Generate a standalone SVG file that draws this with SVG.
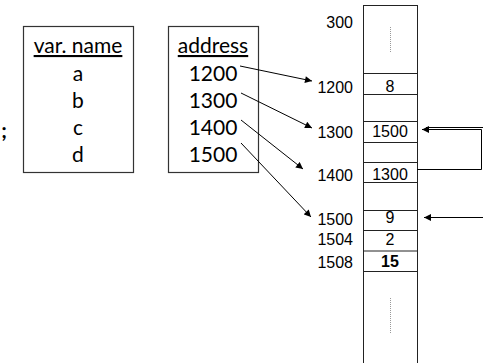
<svg xmlns="http://www.w3.org/2000/svg" width="483" height="363" viewBox="0 0 483 363">
<style>
.c{font-family:Lato,"Open Sans","Liberation Sans",sans-serif;font-size:21px;fill:#000;text-anchor:middle}
.m{font-family:"Liberation Sans",Arial,sans-serif;font-size:16px;fill:#000}
.lab{text-anchor:end}
.val{text-anchor:middle}
.box{fill:#fff;stroke:#333;stroke-width:1.2}
.cell{fill:none;stroke:#222;stroke-width:1}
.dot{stroke:#999;stroke-width:1;stroke-dasharray:1 1}
.ln{fill:none;stroke:#000;stroke-width:1}
</style>
<defs>
<marker id="ah" viewBox="0 0 10 10" refX="10" refY="5" markerWidth="8" markerHeight="7" markerUnits="userSpaceOnUse" orient="auto">
<path d="M0,0 L10,5 L0,10 z" fill="#000"/>
</marker>
</defs>
<rect width="483" height="363" fill="#fff"/>
<text class="c" x="4" y="138" style="font-weight:bold">;</text>
<g id="varname">
<rect class="box" x="23.5" y="26.5" width="110" height="146"/>
<text class="c" x="78" y="53" style="text-decoration:underline">var. name</text>
<text class="c" x="78" y="81">a</text>
<text class="c" x="78" y="108">b</text>
<text class="c" x="78" y="135">c</text>
<text class="c" x="78" y="162">d</text>
</g>
<g id="address">
<rect class="box" x="168.5" y="26.5" width="90" height="146"/>
<text class="c" x="213" y="53" style="text-decoration:underline">address</text>
<text class="c" x="213" y="81">1200</text>
<text class="c" x="213" y="108">1300</text>
<text class="c" x="213" y="135">1400</text>
<text class="c" x="213" y="162">1500</text>
</g>
<g id="memory">
<rect class="cell" x="363.5" y="5.5" width="54" height="360"/>
<line class="cell" x1="363" y1="73.5" x2="418" y2="73.5"/>
<line class="cell" x1="363" y1="94.5" x2="418" y2="94.5"/>
<line class="cell" x1="363" y1="121.5" x2="418" y2="121.5"/>
<line class="cell" x1="363" y1="142.5" x2="418" y2="142.5"/>
<line class="cell" x1="363" y1="162.5" x2="418" y2="162.5"/>
<line class="cell" x1="363" y1="182.5" x2="418" y2="182.5"/>
<line class="cell" x1="363" y1="210.5" x2="418" y2="210.5"/>
<line class="cell" x1="363" y1="230.5" x2="418" y2="230.5"/>
<line class="cell" x1="363" y1="251" x2="418" y2="251"/>
<line class="cell" x1="363" y1="271.5" x2="418" y2="271.5"/>
<line class="dot" x1="390.5" y1="27" x2="390.5" y2="52"/>
<line class="dot" x1="390.5" y1="298" x2="390.5" y2="333"/>
<text class="m lab" x="353" y="28">300</text>
<text class="m lab" x="353" y="93">1200</text>
<text class="m lab" x="353" y="138">1300</text>
<text class="m lab" x="353" y="181">1400</text>
<text class="m lab" x="353" y="225">1500</text>
<text class="m lab" x="353" y="245">1504</text>
<text class="m lab" x="353" y="268">1508</text>
<text class="m val" x="390" y="92">8</text>
<text class="m val" x="390" y="137">1500</text>
<text class="m val" x="390" y="180">1300</text>
<text class="m val" x="390" y="223">9</text>
<text class="m val" x="390" y="245">2</text>
<text class="m val" x="390" y="267" style="font-weight:bold">15</text>
</g>
<g id="connectors">
<line class="ln" x1="240" y1="66" x2="312" y2="81" marker-end="url(#ah)"/>
<line class="ln" x1="241" y1="93" x2="312" y2="128" marker-end="url(#ah)"/>
<line class="ln" x1="241" y1="120" x2="303" y2="169" marker-end="url(#ah)"/>
<line class="ln" x1="241" y1="143" x2="311" y2="217" marker-end="url(#ah)"/>
<line class="ln" x1="426" y1="127.5" x2="483" y2="127.5"/>
<path class="ln" d="M417,169.5 H481.5 V129.5 H422" marker-end="url(#ah)"/>
<line class="ln" x1="483" y1="217.5" x2="424" y2="217.5" marker-end="url(#ah)"/>
</g>
</svg>
